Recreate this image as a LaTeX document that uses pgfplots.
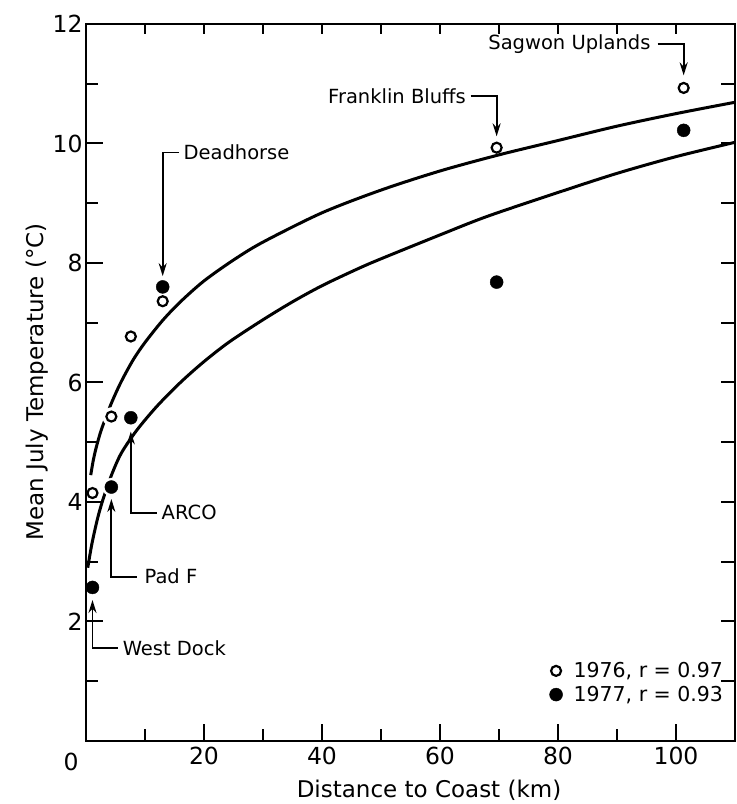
\documentclass[border=0pt]{standalone}
\usepackage{fontspec}
\setmainfont{DejaVu Sans}
\usepackage{pgfplots}
\pgfplotsset{compat=1.18}
\usetikzlibrary{arrows.meta}
\tikzset{ar/.style={-{Stealth[length=13pt,width=8pt]}}}
\pgfplotsset{helper/.style={
 at={(86pt,63pt)}, anchor=south west,
 scale only axis, width=649pt, height=717pt,
 xmin=0, xmax=110, ymin=0, ymax=12,
 xtick pos=right, ytick pos=right,
 xticklabels={}, yticklabels={},
 tick align=inside,
 tick style={line width=2pt, black},
 axis line style={draw=none}}}
\begin{document}
\begin{tikzpicture}[x=1pt,y=1pt]
\path[use as bounding box] (0,0) rectangle (737,804);
% top ticks
\begin{axis}[helper, xtick={10,20,...,110}, ytick=\empty, major tick length=10pt]
\end{axis}
% right ticks
\begin{axis}[helper, xtick=\empty, ytick={1,2,...,11}, major tick length=14pt]
\end{axis}
\begin{axis}[
 at={(86pt,63pt)}, anchor=south west,
 scale only axis, width=649pt, height=717pt,
 xmin=0, xmax=110, ymin=0, ymax=12,
 xtick={20,40,60,80,100}, minor xtick={10,30,50,70,90},
 ytick={2,4,...,12}, minor ytick={1,3,...,11},
 xtick pos=left, ytick pos=left,
 tick align=inside,
 major tick length=17pt, minor tick length=12pt,
 axis line style={line width=2.2pt},
 tick style={line width=2pt, black},
 tick label style={font=\fontsize{23.5}{26}\selectfont},
 xticklabel style={yshift=-3pt},
 /pgf/number format/assume math mode=true,
 clip=false,
 legend style={at={(rel axis cs:0.985,0.05)}, anchor=south east, draw=none, fill=none,
   font=\fontsize{20.5}{24}\selectfont, row sep=3pt, column sep=9pt, inner sep=0pt},
 legend cell align=left,
]
% fitted curves
\addplot[black, line width=3pt, smooth, forget plot] coordinates {
 (0.8,4.45) (1.2,4.68) (1.7,4.9) (2.5,5.18) (3.5,5.45) (4.5,5.7) (6,6.02) (8,6.38) (10,6.67)
 (13,7.04) (16,7.35) (20,7.70) (25,8.05) (30,8.35) (40,8.84) (50,9.22) (60,9.54)
 (70,9.81) (80,10.05) (90,10.29) (100,10.50) (110,10.69)};
\addplot[black, line width=3pt, smooth, forget plot] coordinates {
 (0.3,2.9) (1,3.3) (2,3.74) (3,4.08) (4.4,4.47) (6,4.82) (8.6,5.2) (12,5.6) (16,6.0)
 (20,6.35) (24.3,6.68) (30,7.05) (35,7.35) (40,7.62) (46,7.9) (50,8.07) (60,8.47)
 (68,8.78) (80,9.18) (90,9.5) (100,9.78) (110,10.02)};
% halo around points close to the curves
\addplot[only marks, mark=*, mark size=9pt, white, forget plot] coordinates {
 (4.3,5.43) (4.3,4.25) (7.6,5.41)};
% 1976
\addplot[only marks, mark=o, mark size=5pt, mark options={line width=2.2pt, black, fill=white}] coordinates {
 (1.1,4.15) (4.3,5.43) (7.6,6.77) (13,7.36) (69.6,9.93) (101.3,10.93)};
\addlegendentry{1976, r = 0.97}
% 1977
\addplot[only marks, mark=*, mark size=6.5pt, black] coordinates {
 (1.1,2.57) (4.3,4.25) (7.6,5.41) (13,7.60) (69.6,7.68) (101.3,10.22)};
\addlegendentry{1977, r = 0.93}
% annotations
\draw[ar, line width=1.8pt] (axis cs:15.8,9.85) -- (axis cs:13,9.85) -- (axis cs:13,7.78);
\node[anchor=west, inner sep=0pt, font=\fontsize{19.5}{22}\selectfont] at (axis cs:16.5,9.85) {Deadhorse};
\draw[ar, line width=1.8pt] (axis cs:65.2,10.79) -- (axis cs:69.6,10.79) -- (axis cs:69.6,10.12);
\node[anchor=east, inner sep=0pt, font=\fontsize{19.5}{22}\selectfont] at (axis cs:64.4,10.79) {Franklin Bluffs};
\draw[ar, line width=1.8pt] (axis cs:96.9,11.66) -- (axis cs:101.3,11.66) -- (axis cs:101.3,11.14);
\node[anchor=east, inner sep=0pt, font=\fontsize{19.5}{22}\selectfont] at (axis cs:95.7,11.66) {Sagwon Uplands};
\draw[ar, line width=1.8pt] (axis cs:12.0,3.82) -- (axis cs:7.6,3.82) -- (axis cs:7.6,5.18);
\node[anchor=west, inner sep=0pt, font=\fontsize{19.5}{22}\selectfont] at (axis cs:12.8,3.82) {ARCO};
\draw[ar, line width=1.8pt] (axis cs:8.6,2.75) -- (axis cs:4.3,2.75) -- (axis cs:4.3,4.05);
\node[anchor=west, inner sep=0pt, font=\fontsize{19.5}{22}\selectfont] at (axis cs:9.9,2.75) {Pad F};
\draw[ar, line width=1.8pt] (axis cs:5.4,1.56) -- (axis cs:1.1,1.56) -- (axis cs:1.1,2.36);
\node[anchor=west, inner sep=0pt, font=\fontsize{19.5}{22}\selectfont] at (axis cs:6.2,1.56) {West Dock};
\end{axis}
\node[font=\fontsize{23.5}{26}\selectfont] at (71,42) {0};
\node[font=\fontsize{23}{26}\selectfont] at (429,14) {Distance to Coast (km)};
\node[font=\fontsize{23}{26}\selectfont, rotate=90] at (37,422) {Mean July Temperature (°C)};
\end{tikzpicture}
\end{document}
